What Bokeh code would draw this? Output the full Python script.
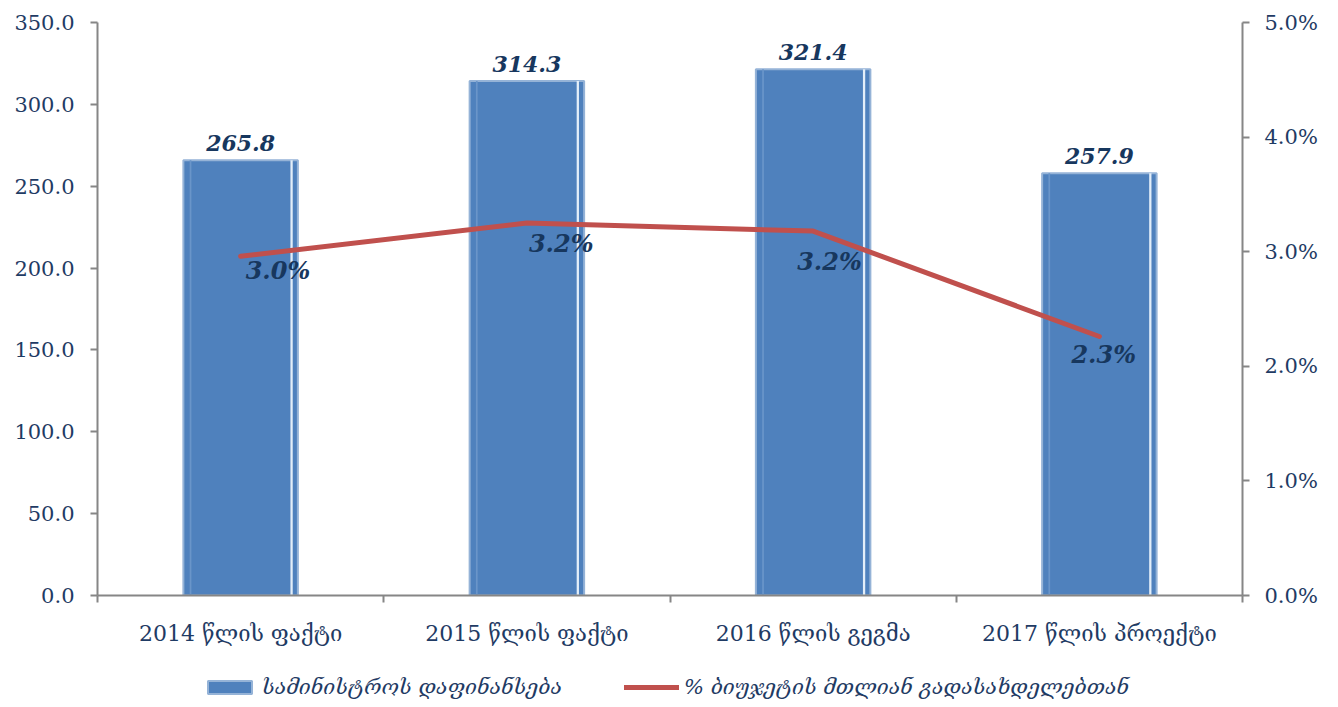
from bokeh.plotting import figure
from bokeh.layouts import column
from bokeh.models import (ColumnDataSource, FactorRange, Range1d, LinearAxis, CategoricalAxis,
                          FixedTicker, SingleIntervalTicker, NumeralTickFormatter, Legend, LegendItem)
from bokeh.core.properties import value
from bokeh.transform import dodge
from bokeh.embed import file_html
from bokeh.resources import INLINE

categories = ["2014 წლის ფაქტი", "2015 წლის ფაქტი", "2016 წლის გეგმა", "2017 წლის პროექტი"]
funding = [265.8, 314.3, 321.4, 257.9]
share = [0.0296, 0.0325, 0.0318, 0.0226]
share_labels = ["3.0%", "3.2%", "3.2%", "2.3%"]
funding_labels = ["265.8", "314.3", "321.4", "257.9"]
bar_name = "სამინისტროს დაფინანსება"
line_name = "% ბიუჯეტის მთლიან გადასახდელებთან"

# label placement (screen px)
pct_dx = [5, 2, -16, -28]
pct_dy = [14, 20, 30, 18]

NAVY = "#1F3B64"
GRAY = "#868686"
FONT = "DejaVu Serif"
BAR_FILL = "#4F81BD"
BAR_EDGE = "#95B3D7"
LINE_COLOR = "#C0504D"
W = 1330

src = ColumnDataSource(dict(cat=categories, val=funding, vlab=funding_labels,
                            pct=share, plab=share_labels, dx=pct_dx, dy=pct_dy))

p = figure(x_range=FactorRange(*categories), y_range=Range1d(0, 350),
           width=W, height=650, output_backend="svg", toolbar_location=None,
           x_axis_location=None, y_axis_location="left",
           min_border_left=97, min_border_right=W - 1242, min_border_top=22, min_border_bottom=55)
p.outline_line_color = None
p.grid.visible = False
p.extra_y_ranges = {"pct": Range1d(0, 0.05)}

# left axis
ya = p.yaxis[0]
ya.ticker = SingleIntervalTicker(interval=50, num_minor_ticks=0)
ya.formatter = NumeralTickFormatter(format="0.0")
ya.axis_line_color = GRAY
ya.axis_line_width = 2
ya.major_tick_line_color = GRAY
ya.major_tick_line_width = 2
ya.major_tick_out = 7
ya.major_tick_in = 0
ya.minor_tick_line_color = None
ya.major_label_standoff = 16
ya.major_label_text_font = FONT
ya.major_label_text_font_size = "21px"
ya.major_label_text_color = NAVY

# right axis
ra = LinearAxis(y_range_name="pct", ticker=SingleIntervalTicker(interval=0.01, num_minor_ticks=0),
                formatter=NumeralTickFormatter(format="0.0%"))
ra.axis_line_color = GRAY
ra.axis_line_width = 2
ra.major_tick_line_color = GRAY
ra.major_tick_line_width = 2
ra.major_tick_out = 7
ra.major_tick_in = 0
ra.minor_tick_line_color = None
ra.major_label_standoff = 15
ra.major_label_text_font = FONT
ra.major_label_text_font_size = "21px"
ra.major_label_text_color = NAVY
p.add_layout(ra, "right")

# x axis line with ticks at category boundaries (synthetic coordinates 0..n)
edge_ticks = list(range(len(categories) + 1))
ea = LinearAxis(ticker=FixedTicker(ticks=edge_ticks))
ea.axis_line_color = GRAY
ea.axis_line_width = 2
ea.major_tick_line_color = GRAY
ea.major_tick_line_width = 2
ea.major_tick_out = 7
ea.major_tick_in = 0
ea.minor_tick_line_color = None
ea.major_label_overrides = {t: "" for t in edge_ticks}
ea.major_label_text_font_size = "0px"
ea.major_label_standoff = 0
p.add_layout(ea, "below")

ca = CategoricalAxis()
ca.axis_line_color = None
ca.major_tick_line_color = None
ca.minor_tick_line_color = None
ca.major_label_standoff = 12
ca.major_label_text_font = FONT
ca.major_label_text_font_size = "22px"
ca.major_label_text_color = NAVY
p.add_layout(ca, "below")

# bars
bars = p.vbar(x="cat", top="val", width=0.4, source=src, fill_color=BAR_FILL,
              line_color=BAR_EDGE, line_width=2)
p.vbar(x=dodge("cat", 0.178, range=p.x_range), top="val", width=0.008, source=src,
       fill_color="#E3EEF9", line_color=None)
p.vbar(x=dodge("cat", -0.175, range=p.x_range), top="val", width=0.006, source=src,
       fill_color="#6A95C9", line_color=None)

p.text(x="cat", y="val", text="vlab", source=src, text_align="center", text_baseline="bottom",
       y_offset=-9, text_font=value(FONT), text_font_style="bold italic",
       text_font_size="22px", text_color="#17375E")

# line
ln = p.line(x="cat", y="pct", y_range_name="pct", source=src, line_color=LINE_COLOR,
            line_width=5, line_cap="round", line_join="round")
p.text(x="cat", y="pct", text="plab", y_range_name="pct", source=src,
       x_offset="dx", y_offset="dy", text_align="left", text_baseline="middle",
       text_font=value(FONT), text_font_style="bold italic",
       text_font_size="24px", text_color="#17375E")

# legend strip below the chart (zero-size proxy glyphs carry the styles)
lf = figure(width=W, height=55, x_range=Range1d(0, 1), y_range=Range1d(0, 1),
            output_backend="svg", toolbar_location=None,
            x_axis_location=None, y_axis_location=None,
            min_border_left=0, min_border_right=0, min_border_top=0, min_border_bottom=0)
lf.outline_line_color = None
lf.grid.visible = False
proxy = ColumnDataSource(dict(x=[0.5], y=[0.0]))
lbar = lf.vbar(x="x", top="y", bottom="y", width=0, source=proxy,
               fill_color=BAR_FILL, line_color=BAR_EDGE, line_width=2)
lline = lf.line(x="x", y="y", source=proxy, line_color=LINE_COLOR, line_width=5, line_cap="round")
legend = Legend(items=[LegendItem(label=bar_name, renderers=[lbar]),
                       LegendItem(label=line_name, renderers=[lline])],
                orientation="horizontal", location=(105, 6),
                border_line_color=None, background_fill_alpha=0,
                glyph_width=55, glyph_height=16, label_standoff=5, spacing=62,
                padding=0, margin=0)
legend.label_text_font = FONT
legend.label_text_font_style = "italic"
legend.label_text_font_size = "21px"
legend.label_text_color = NAVY
lf.add_layout(legend, "center")

layout = column(p, lf, spacing=0)
open("out.html", "w").write(file_html(layout, INLINE))
